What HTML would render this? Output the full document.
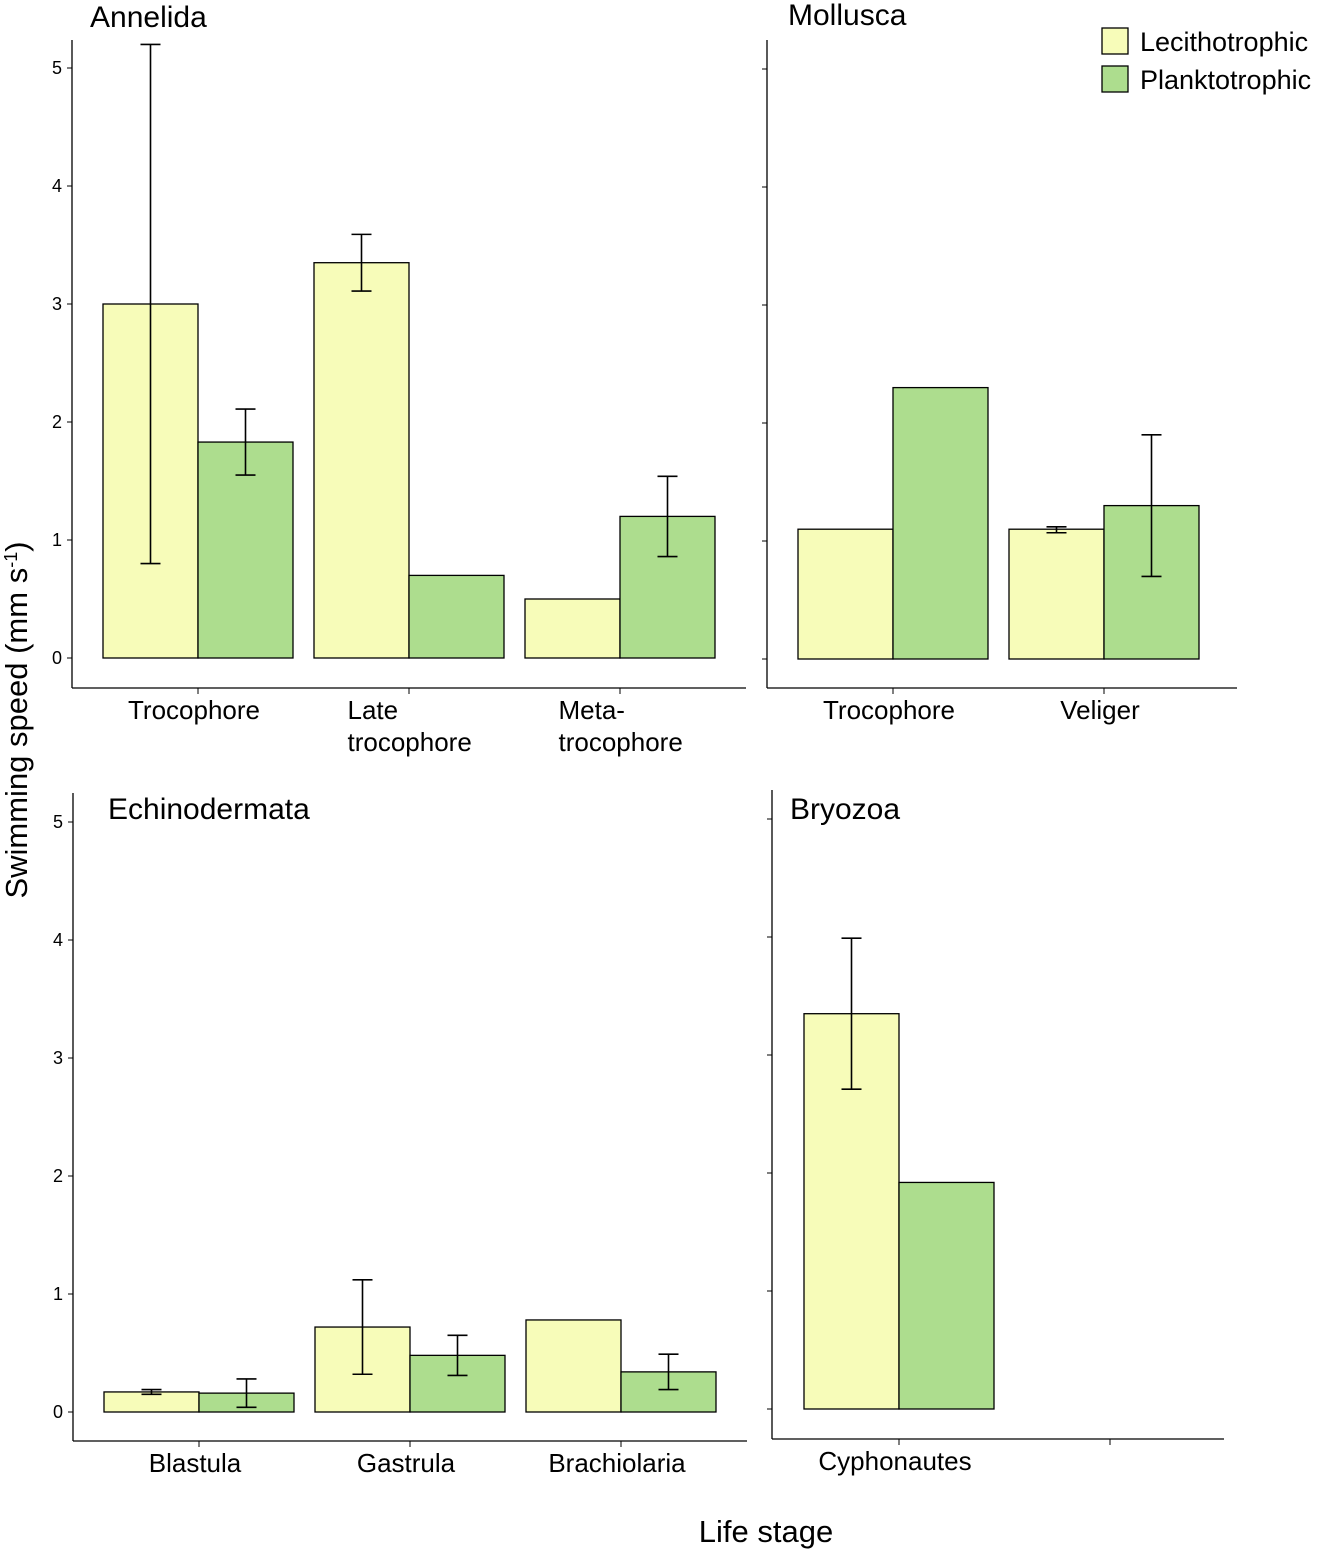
<!DOCTYPE html>
<html><head><meta charset="utf-8"><style>
body{margin:0;background:#fff;}
svg text{font-family:"Liberation Sans",Arial,sans-serif;fill:#000;}
</style></head><body>
<svg id="c" width="1320" height="1553" xmlns="http://www.w3.org/2000/svg"></svg>
<script>
const categoriesA=["Trocophore","Late|trocophore","Meta-|trocophore"];
const lecA=[3.0,3.35,0.5], lecAErr=[[0.8,5.2],[3.11,3.59],null];
const plaA=[1.83,0.7,1.2], plaAErr=[[1.55,2.11],null,[0.86,1.54]];
const categoriesM=["Trocophore","Veliger"];
const lecM=[1.1,1.1], lecMErr=[null,[1.07,1.12]];
const plaM=[2.3,1.3], plaMErr=[null,[0.7,1.9]];
const categoriesE=["Blastula","Gastrula","Brachiolaria"];
const lecE=[0.17,0.72,0.78], lecEErr=[[0.15,0.19],[0.32,1.12],null];
const plaE=[0.16,0.48,0.34], plaEErr=[[0.04,0.28],[0.31,0.65],[0.19,0.49]];
const categoriesB=["Cyphonautes",""];
const lecB=[3.35], lecBErr=[[2.71,3.99]];
const plaB=[1.92], plaBErr=[null];
const yTicks=[0,1,2,3,4,5];
const svg=document.getElementById('c');
const NS='http://www.w3.org/2000/svg';
function mk(t,a,txt){const e=document.createElementNS(NS,t);for(const k in a)e.setAttribute(k,a[k]);if(txt!=null)e.textContent=txt;svg.appendChild(e);return e;}
function panel(o){
  const y=v=>o.zero-v*118;
  const ax=mk('line',{x1:o.ax,y1:o.top,x2:o.ax,y2:o.base,stroke:'#000','stroke-width':1.3});
  
  const bx=mk('line',{x1:o.ax,y1:o.base,x2:o.right,y2:o.base,stroke:'#000','stroke-width':1.3});
  
  yTicks.forEach(t=>{
    mk('line',{x1:o.ax-5,y1:y(t),x2:o.ax,y2:y(t),stroke:'#000'});
    if(o.labels){const l=mk('text',{x:o.ax-10,y:y(t)+6,'text-anchor':'end','font-size':18},t);
    }
  });
  const tt=mk('text',{x:o.tx,y:o.ty,'font-size':30},o.title);
  
  o.cats.forEach((c,i)=>{
    const cx=o.x0+i*o.step;
    mk('line',{x1:cx,y1:o.base,x2:cx,y2:o.base+6,stroke:'#000'});
    const parts=c.split('|');
    parts.forEach((p,j)=>{
      const lab=mk('text',{x:cx,y:o.base+31+j*32,'text-anchor':parts.length>1?'start':'middle','font-size':26},p);
      if(parts.length>1)lab.setAttribute('x',cx-o.step/2+44);
      else lab.setAttribute('x',cx-4);
      
    });
    const series=[[o.lec,o.lecErr,'#f7fcb9','lecithotrophic'],[o.pla,o.plaErr,'#addd8e','planktotrophic']];
    series.forEach((s,k)=>{
      if(s[0][i]==null)return;
      const v=s[0][i];const x=cx-95+k*95;
      const r=mk('rect',{x:x,y:y(v),width:95,height:v*118,fill:s[2],stroke:'#000','stroke-width':1.3});
      
      const e=s[1][i];
      if(e){const m=x+47.5;
        const g=mk('path',{d:`M${m-10},${y(e[1])}H${m+10}M${m},${y(e[1])}V${y(e[0])}M${m-10},${y(e[0])}H${m+10}`,stroke:'#000','stroke-width':1.6,fill:'none'});
        }
    });
  });
}
panel({id:'annelida',title:'Annelida',tx:90,ty:27,ax:72,top:40,base:688,right:746,zero:658,x0:198,step:211,cats:categoriesA,lec:lecA,lecErr:lecAErr,pla:plaA,plaErr:plaAErr,labels:true});
panel({id:'mollusca',title:'Mollusca',tx:788,ty:25,ax:767,top:40,base:688,right:1237,zero:659,x0:893,step:211,cats:categoriesM,lec:lecM,lecErr:lecMErr,pla:plaM,plaErr:plaMErr,labels:false});
panel({id:'echinodermata',title:'Echinodermata',tx:108,ty:819,ax:73,top:793,base:1441,right:747,zero:1412,x0:199,step:211,cats:categoriesE,lec:lecE,lecErr:lecEErr,pla:plaE,plaErr:plaEErr,labels:true});
panel({id:'bryozoa',title:'Bryozoa',tx:790,ty:819,ax:772,top:790,base:1439,right:1224,zero:1409,x0:899,step:211,cats:categoriesB,lec:lecB,lecErr:lecBErr,pla:plaB,plaErr:plaBErr,labels:false});
const yt=mk('text',{x:0,y:0,'font-size':31,'text-anchor':'middle',transform:'translate(27,720) rotate(-90)'});

yt.innerHTML='Swimming speed (mm s<tspan dy="-10" font-size="18">-1</tspan><tspan dy="10">)</tspan>';
const xt=mk('text',{x:766,y:1542,'font-size':31,'text-anchor':'middle'},'Life stage');

[['Lecithotrophic','#f7fcb9',28],['Planktotrophic','#addd8e',66]].forEach(l=>{
  const r=mk('rect',{x:1102,y:l[2],width:26,height:26,fill:l[1],stroke:'#000','stroke-width':1.3});
  
  const t=mk('text',{x:1140,y:l[2]+23,'font-size':27},l[0]);
  
});
</script>
</body></html>
